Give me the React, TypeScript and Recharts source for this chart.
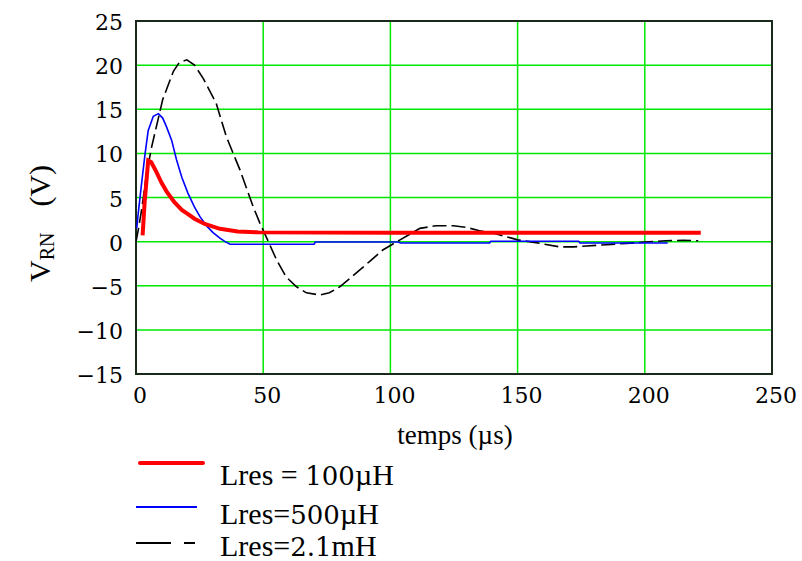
import React from 'react';
import {
  LineChart, Line, XAxis, YAxis, CartesianGrid, ReferenceArea,
} from 'recharts';

// time in µs, voltage in V
const red100uH = [
  { t: 2.6, v: 0.7 }, { t: 3.4, v: 4.5 }, { t: 4.8, v: 9.2 }, { t: 6, v: 9.0 },
  { t: 8, v: 7.9 }, { t: 10, v: 6.7 }, { t: 12, v: 5.7 }, { t: 15, v: 4.5 },
  { t: 18, v: 3.6 }, { t: 20, v: 3.2 }, { t: 23, v: 2.6 }, { t: 27, v: 2.0 },
  { t: 33, v: 1.45 }, { t: 40, v: 1.15 }, { t: 48, v: 1.05 }, { t: 100, v: 1.0 },
  { t: 222, v: 1.0 },
];

const blue500uH = [
  { t: 0.3, v: 1.5 }, { t: 0.8, v: 3.0 }, { t: 2.2, v: 6.6 }, { t: 3.5, v: 9.8 },
  { t: 4.8, v: 12.6 }, { t: 6.8, v: 14.2 }, { t: 8.8, v: 14.5 }, { t: 10.5, v: 14.0 },
  { t: 12, v: 13.0 }, { t: 14, v: 11.5 }, { t: 15.9, v: 9.3 }, { t: 18, v: 7.3 },
  { t: 20.4, v: 5.5 }, { t: 23, v: 3.9 }, { t: 25.2, v: 2.8 }, { t: 28, v: 1.7 },
  { t: 30.4, v: 1.0 }, { t: 33, v: 0.4 }, { t: 35, v: 0.0 }, { t: 37, v: -0.3 },
  { t: 70, v: -0.3 }, { t: 70.5, v: -0.05 }, { t: 103, v: -0.05 }, { t: 104, v: -0.15 },
  { t: 139, v: -0.15 }, { t: 139.5, v: 0.05 }, { t: 174, v: 0.05 }, { t: 174.5, v: -0.15 },
  { t: 209, v: -0.15 },
];

const black2_1mH = [
  { t: 0, v: 0 }, { t: 1, v: 1.5 }, { t: 2.2, v: 3.6 }, { t: 4.2, v: 7.8 },
  { t: 6.2, v: 10.8 }, { t: 8.8, v: 14.0 }, { t: 10.5, v: 16.1 }, { t: 14.7, v: 19.3 },
  { t: 17, v: 20.3 }, { t: 20, v: 20.6 }, { t: 23, v: 20.0 }, { t: 26.4, v: 18.5 },
  { t: 31.5, v: 15.7 }, { t: 35.5, v: 11.9 }, { t: 40.9, v: 8.1 }, { t: 46, v: 4.0 },
  { t: 48.7, v: 2.1 }, { t: 51.4, v: 0.4 }, { t: 55.3, v: -2.1 }, { t: 59, v: -4.0 },
  { t: 63, v: -5.1 }, { t: 67, v: -5.8 }, { t: 72.3, v: -6.05 }, { t: 76, v: -5.8 },
  { t: 80.2, v: -5.1 }, { t: 84, v: -4.2 }, { t: 88, v: -3.2 }, { t: 92, v: -2.2 },
  { t: 97, v: -0.95 }, { t: 103.8, v: 0.2 }, { t: 111.6, v: 1.5 }, { t: 118, v: 1.8 },
  { t: 124.7, v: 1.8 }, { t: 130, v: 1.6 }, { t: 135, v: 1.24 }, { t: 140, v: 1.0 },
  { t: 145, v: 0.6 }, { t: 150, v: 0.2 }, { t: 158.8, v: -0.2 }, { t: 166.7, v: -0.6 },
  { t: 172, v: -0.6 }, { t: 177, v: -0.5 }, { t: 185, v: -0.35 }, { t: 192.7, v: -0.2 },
  { t: 200, v: -0.05 }, { t: 208, v: 0.1 }, { t: 215, v: 0.15 }, { t: 221, v: 0.1 },
];

const xTicks = [0, 50, 100, 150, 200, 250];
const yTicks = [-15, -10, -5, 0, 5, 10, 15, 20, 25];

const serif = 'Liberation Serif';
const numFont = 'DejaVu Serif';
const gridGreen = '#00e800';
const frame = '#1a2a1a';

const fmt = (v: number) => (v < 0 ? `\u2212${Math.abs(v)}` : `${v}`);

function XTick(props: any) {
  const { x, y, payload } = props;
  return (
    <text x={x + 4} y={y + 29} textAnchor="middle" fontFamily={numFont} fontSize={22} fill="#000">
      {fmt(payload.value)}
    </text>
  );
}

function YTick(props: any) {
  const { x, y, payload } = props;
  return (
    <text x={x + 1} y={y + 9} textAnchor="end" fontFamily={numFont} fontSize={22} fill="#000">
      {fmt(payload.value)}
    </text>
  );
}

// legend label: digits drawn with a serif face that has them here
function Num({ children }: { children: React.ReactNode }) {
  return <tspan fontFamily={numFont} fontSize={26}>{children}</tspan>;
}

export default function App() {
  return (
    <div style={{ position: 'absolute', left: 0, top: 0, width: 802, height: 561, background: '#fff' }}>
      <LineChart
        width={802}
        height={561}
        margin={{ top: 21, right: 30, left: 0, bottom: 0 }}
      >
        <CartesianGrid stroke={gridGreen} strokeWidth={1.5} />
        <XAxis
          type="number"
          dataKey="t"
          domain={[0, 250]}
          ticks={xTicks}
          height={187}
          axisLine={false}
          tickLine={false}
          tickSize={0}
          tickMargin={0}
          tick={<XTick />}
          allowDataOverflow
        />
        <YAxis
          type="number"
          domain={[-15, 25]}
          ticks={yTicks}
          width={136}
          axisLine={false}
          tickLine={false}
          tickSize={0}
          tickMargin={14}
          tick={<YTick />}
          allowDataOverflow
        />
        <ReferenceArea x1={0} x2={250} y1={-15} y2={25} fill="none" stroke={frame} strokeWidth={2} />
        <Line data={black2_1mH} dataKey="v" type="linear" stroke="#000" strokeWidth={1.6}
          strokeDasharray="14 5" dot={false} isAnimationActive={false} />
        <Line data={blue500uH} dataKey="v" type="linear" stroke="#0000ff" strokeWidth={1.6}
          dot={false} isAnimationActive={false} />
        <Line data={red100uH} dataKey="v" type="linear" stroke="#ff0000" strokeWidth={4}
          dot={false} isAnimationActive={false} />
      </LineChart>
      <svg width={802} height={561} style={{ position: 'absolute', left: 0, top: 0, pointerEvents: 'none' }}
        fontFamily={serif}>
        <text transform="translate(50,282) rotate(-90)" fontSize={30} fill="#000">
          V<tspan fontSize={20} dy={4}>RN</tspan>
          <tspan dx={26} dy={-4}>(V)</tspan>
        </text>
        <text x={455} y={444} fontSize={27} textAnchor="middle" fill="#000">temps (µs)</text>
        <line x1={140} x2={203} y1={463} y2={463} stroke="#ff0000" strokeWidth={4} strokeLinecap="round" />
        <text x={220} y={485} fontSize={30} fill="#000">Lres = <Num>100</Num>µH</text>
        <line x1={136} x2={197} y1={507} y2={507} stroke="#0000ff" strokeWidth={2} />
        <text x={220} y={524} fontSize={30} fill="#000">Lres=<Num>500</Num>µH</text>
        <line x1={136} x2={171} y1={543} y2={543} stroke="#000" strokeWidth={2} />
        <line x1={184} x2={195} y1={543} y2={543} stroke="#000" strokeWidth={2} />
        <text x={220} y={556} fontSize={30} fill="#000">Lres=<Num>2.1</Num>mH</text>
      </svg>
    </div>
  );
}
